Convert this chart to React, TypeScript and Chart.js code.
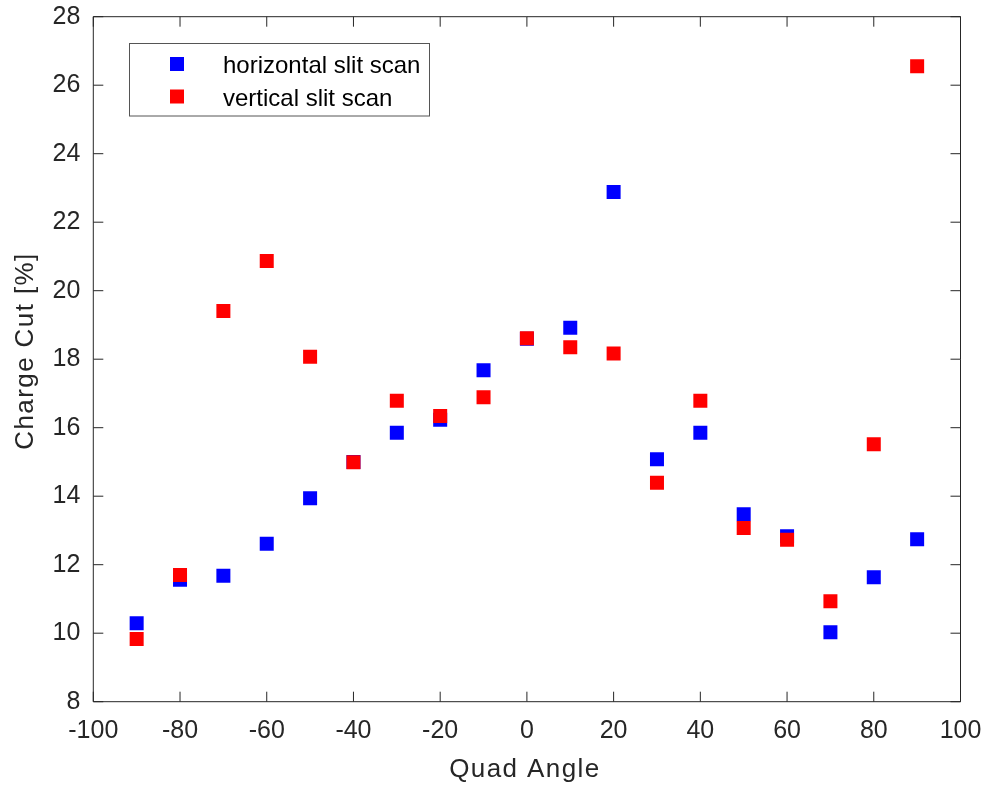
import React, { useEffect, useRef } from "react";
import { Chart, registerables } from "chart.js";

Chart.register(...registerables);

const quadAngles = [-90, -80, -70, -60, -50, -40, -30, -20, -10, 0, 10, 20, 30, 40, 50, 60, 70, 80, 90];
const horizontalScan = [10.29, 11.56, 11.68, 12.61, 13.94, 15.0, 15.85, 16.23, 17.68, 18.6, 18.92, 22.88, 15.08, 15.85, 13.47, 12.83, 10.03, 11.63, 12.74];
const verticalScan = [9.83, 11.7, 19.41, 20.87, 18.07, 14.99, 16.79, 16.34, 16.89, 18.61, 18.35, 18.17, 14.39, 16.79, 13.07, 12.73, 10.93, 15.52, 26.55];
const seriesLabels = ["horizontal slit scan", "vertical slit scan"];
const seriesColors = ["#0000ff", "#ff0000"];
const xTitle = "Quad Angle";
const yTitle = "Charge Cut [%]";

const FONT = "'Liberation Sans', Arial, Helvetica, sans-serif";
const INK = "#262626";

const matlabPlugin = {
  id: "matlabAxes",
  beforeDatasetsDraw(chart: any) {
    const { ctx, chartArea } = chart;
    const { left, right, top, bottom } = chartArea;
    const xs = chart.scales.x;
    const ys = chart.scales.y;
    ctx.save();
    ctx.strokeStyle = INK;
    ctx.lineWidth = 1;
    ctx.beginPath();
    ctx.rect(left, top, right - left, bottom - top);
    ctx.stroke();
    const tl = 10;
    ctx.beginPath();
    xs.ticks.forEach((t: any) => {
      const px = xs.getPixelForValue(t.value);
      ctx.moveTo(px, bottom);
      ctx.lineTo(px, bottom - tl);
      ctx.moveTo(px, top);
      ctx.lineTo(px, top + tl);
    });
    ys.ticks.forEach((t: any) => {
      const py = ys.getPixelForValue(t.value);
      ctx.moveTo(left, py);
      ctx.lineTo(left + tl, py);
      ctx.moveTo(right, py);
      ctx.lineTo(right - tl, py);
    });
    ctx.stroke();
    ctx.restore();
  },
  afterDraw(chart: any) {
    const { ctx, chartArea } = chart;
    ctx.save();
    // axis titles
    ctx.fillStyle = INK;
    ctx.font = `26px ${FONT}`;
    try { (ctx as any).letterSpacing = "1.4px"; } catch (e) {}
    ctx.textAlign = "center";
    ctx.textBaseline = "alphabetic";
    const cx = (chartArea.left + chartArea.right) / 2 - 2;
    ctx.fillText(xTitle, cx, 777);
    ctx.save();
    ctx.translate(33, 351);
    ctx.rotate(-Math.PI / 2);
    ctx.fillText(yTitle, 0, 0);
    ctx.restore();
    try { (ctx as any).letterSpacing = "0px"; } catch (e) {}

    // legend
    const bx = 129.5, by = 43.5, bw = 300, bh = 72.5;
    ctx.fillStyle = "#ffffff";
    ctx.fillRect(bx, by, bw, bh);
    ctx.strokeStyle = "#555555";
    ctx.lineWidth = 1;
    ctx.strokeRect(bx, by, bw, bh);
    const rows = [64, 96.5];
    chart.data.datasets.forEach((ds: any, i: number) => {
      const cy = rows[i];
      ctx.fillStyle = ds.backgroundColor;
      ctx.fillRect(177 - 7, cy - 7, 14, 14);
      ctx.fillStyle = "#000000";
      ctx.font = `24px ${FONT}`;
      ctx.textAlign = "left";
      ctx.textBaseline = "alphabetic";
      ctx.fillText(ds.label, 223, cy + 9.3);
    });
    ctx.restore();
  },
};

export default function App() {
  const ref = useRef<HTMLCanvasElement | null>(null);
  useEffect(() => {
    if (!ref.current) return;
    const mk = (vals: number[]) => quadAngles.map((x, i) => ({ x, y: vals[i] }));
    const chart = new Chart(ref.current, {
      type: "scatter",
      data: {
        datasets: [
          {
            label: seriesLabels[0],
            data: mk(horizontalScan),
            backgroundColor: seriesColors[0],
            borderColor: seriesColors[0],
            pointStyle: "rect",
            pointRadius: 9.9,
            pointBorderWidth: 0,
            order: 1,
          },
          {
            label: seriesLabels[1],
            data: mk(verticalScan),
            backgroundColor: seriesColors[1],
            borderColor: seriesColors[1],
            pointStyle: "rect",
            pointRadius: 9.9,
            pointBorderWidth: 0,
            order: 0,
          },
        ],
      },
      options: {
        responsive: false,
        animation: false,
        layout: { padding: { top: 16.7, right: 28.5, left: 0, bottom: 0 } },
        plugins: { legend: { display: false }, tooltip: { enabled: false } },
        scales: {
          x: {
            type: "linear",
            min: -100,
            max: 100,
            grid: { display: false, drawTicks: false },
            border: { display: false },
            ticks: { stepSize: 20, color: INK, font: { family: FONT, size: 25 }, padding: 14, maxRotation: 0 },
            afterFit: (s: any) => {
              s.height = 85.3;
              s.paddingLeft = 0;
              s.paddingRight = 0;
            },
          },
          y: {
            type: "linear",
            min: 8,
            max: 28,
            grid: { display: false, drawTicks: false },
            border: { display: false },
            ticks: { stepSize: 2, color: INK, font: { family: FONT, size: 25 }, padding: 13 },
            afterFit: (s: any) => {
              s.width = 93.3;
              s.paddingTop = 0;
              s.paddingBottom = 0;
            },
          },
        },
      },
      plugins: [matlabPlugin],
    });
    return () => chart.destroy();
  }, []);
  return (
    <div style={{ position: "fixed", left: 0, top: 0, width: 989, height: 787, background: "#fff" }}>
      <canvas ref={ref} width={989} height={787} style={{ display: "block" }} />
    </div>
  );
}
